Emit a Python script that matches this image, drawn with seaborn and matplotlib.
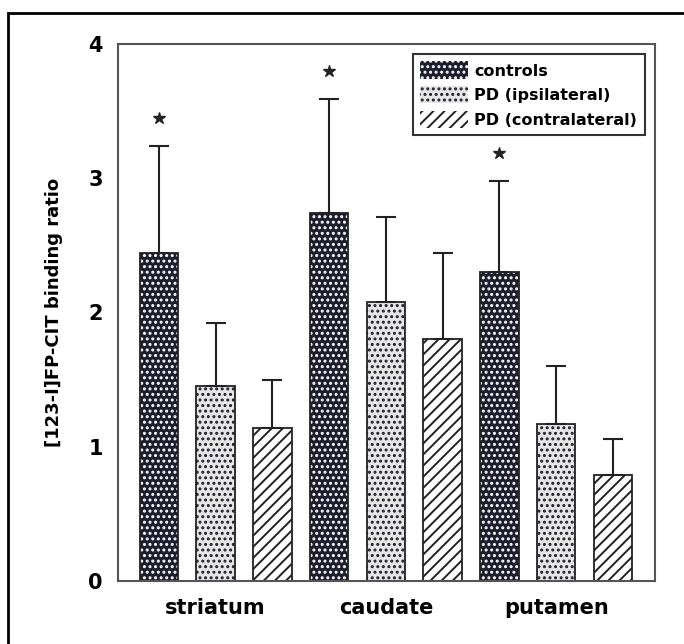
import pandas as pd
import matplotlib.pyplot as plt
import seaborn as sns
from matplotlib.patches import Rectangle, Patch

# values (mean and SD of binding ratio)
regions = ["striatum", "caudate", "putamen"]
groups = ["controls", "PD (ipsilateral)", "PD (contralateral)"]
controls_mean = [2.44, 2.74, 2.30]
controls_sd = [0.80, 0.85, 0.68]
ipsi_mean = [1.45, 2.08, 1.17]
ipsi_sd = [0.47, 0.63, 0.43]
contra_mean = [1.14, 1.80, 0.79]
contra_sd = [0.36, 0.64, 0.27]
starred = ["controls"]  # significant vs PD in every region

means = {"controls": controls_mean, "PD (ipsilateral)": ipsi_mean, "PD (contralateral)": contra_mean}
sds = {"controls": controls_sd, "PD (ipsilateral)": ipsi_sd, "PD (contralateral)": contra_sd}

rows = []
for i, r in enumerate(regions):
    for g in groups:
        rows.append({"region": r, "group": g, "mean": means[g][i], "sd": sds[g][i]})
df = pd.DataFrame(rows)

# fill / hatch for each group
styles = {
    "controls": dict(face="#1d1d2e", hatch="...", hcol="white"),
    "PD (ipsilateral)": dict(face="#e6e6e6", hatch="...", hcol="#1d1d2e"),
    "PD (contralateral)": dict(face="white", hatch="///", hcol="#222222"),
}

sns.set_style("white")
plt.rcParams['font.family'] = ['DejaVu Sans']
plt.rcParams['hatch.linewidth'] = 1.4
plt.rcParams['text.color'] = 'black'
plt.rcParams['xtick.color'] = 'black'
plt.rcParams['ytick.color'] = 'black'
plt.rcParams['axes.labelcolor'] = 'black'

fig = plt.figure(figsize=(6.84, 6.44), dpi=100)
ax = fig.add_axes([0.1725, 0.0978, 0.785, 0.834])

sns.barplot(data=df, x="region", y="mean", hue="group", order=regions, hue_order=groups,
            width=1.0, gap=0.32, errorbar=None, legend=False, ax=ax)

# bars sorted left to right follow the row order of df
bars = sorted(ax.patches, key=lambda p: p.get_x())
for p, (_, row) in zip(bars, df.iterrows()):
    st = styles[row["group"]]
    p.set_facecolor(st["face"])
    p.set_edgecolor(st["hcol"])
    p.set_hatch(st["hatch"])
    p.set_linewidth(0)
    ax.add_patch(Rectangle((p.get_x(), p.get_y()), p.get_width(), p.get_height(),
                           fill=False, edgecolor="#222222", lw=1.3, zorder=p.get_zorder() + 0.1))
    xc = p.get_x() + p.get_width() / 2
    top = p.get_height()
    ax.errorbar(xc, top, yerr=[[0], [row["sd"]]], fmt="none", ecolor="#222222",
                elinewidth=1.5, capsize=7, capthick=1.5, zorder=1)
    if row["group"] in starred:
        ax.plot(xc, top + row["sd"] + 0.21, marker="*", markersize=9, color="#222222")

ax.set_ylim(0, 4)
ax.set_yticks([0, 1, 2, 3, 4])
first, last = bars[0], bars[-1]
slot = bars[1].get_x() - first.get_x()
ax.set_xlim(first.get_x() - 0.38 * slot, last.get_x() + last.get_width() + 0.40 * slot)

ax.set_xlabel("")
ax.set_ylabel("[123-I]FP-CIT binding ratio", fontsize=13, fontweight="bold", labelpad=18)
ax.tick_params(axis="y", direction="in", length=6, width=1.2, color="#555555",
               labelcolor="black", pad=11, labelsize=15)
ax.tick_params(axis="x", length=0, pad=12, labelsize=15, labelcolor="black")
for lab in ax.get_xticklabels() + ax.get_yticklabels():
    lab.set_fontweight("bold")
for s in ax.spines.values():
    s.set_color("#555555")
    s.set_linewidth(1.5)
    s.set_visible(True)

handles = [Patch(facecolor=styles[g]["face"], edgecolor=styles[g]["hcol"], hatch=styles[g]["hatch"],
                 linewidth=0, label=g) for g in groups]
leg = ax.legend(handles=handles, loc="upper right", prop={"weight": "bold", "size": 11.5},
                frameon=True, fancybox=False, framealpha=1, edgecolor="#333333",
                handlelength=3.0, handleheight=1.3, handletextpad=0.4, labelspacing=0.45,
                borderaxespad=0.65, borderpad=0.45)
leg.get_frame().set_linewidth(1.5)
for t in leg.get_texts():
    t.set_color("black")

# outer frame of the scanned figure (only left and top edges fall inside the image)
fig.add_artist(Rectangle((8 / 684, -0.2), 1.2, 1.2 - 13 / 644, transform=fig.transFigure,
                         fill=False, edgecolor="black", lw=2))

fig.savefig("out.png", dpi=100)
